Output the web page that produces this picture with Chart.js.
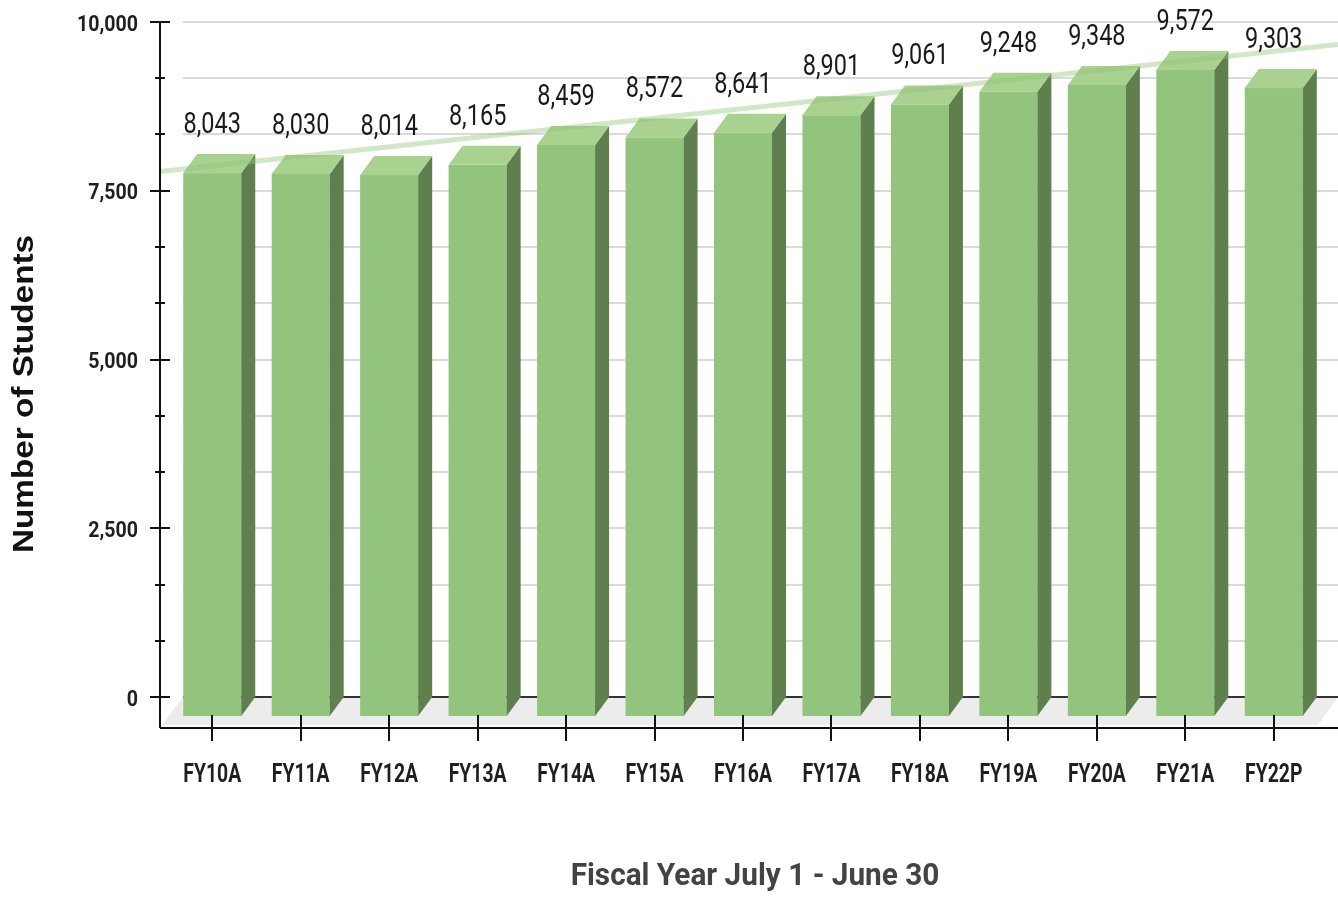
<!DOCTYPE html>
<html>
<head>
<meta charset="utf-8">
<script src="https://cdn.jsdelivr.net/npm/chart.js@4.4.1/dist/chart.umd.min.js"></script>
<style>
  html, body { margin: 0; padding: 0; background: #fff; overflow: hidden; }
</style>
</head>
<body>
<canvas id="enrollment" width="1338" height="897"></canvas>
<script>
const categories = ['FY10A', 'FY11A', 'FY12A', 'FY13A', 'FY14A', 'FY15A', 'FY16A',
                    'FY17A', 'FY18A', 'FY19A', 'FY20A', 'FY21A', 'FY22P'];
const students = [8043, 8030, 8014, 8165, 8459, 8572, 8641, 8901, 9061, 9248, 9348, 9572, 9303];
// trend line level at the first and last fiscal year
const trendEnds = [7870, 9565];
const yLabelled = [0, 2500, 5000, 7500, 10000];
const minorPerStep = 3;

const FRONT = '#93c47d';
const TOP = '#a9d18f';
const SIDE = '#5f7f4e';
const DEPTH_X = 14;
const DEPTH_Y = 19;
const FONT = 'Roboto, "Liberation Sans", sans-serif';

function isLabelled(v) {
  return yLabelled.some(l => Math.abs(l - v) < 1e-6);
}

// Roboto squeezed sideways so it reads like a condensed face
function narrowText(ctx, text, x, y, sx, align, baseline) {
  ctx.save();
  ctx.translate(x, y);
  ctx.scale(sx, 1);
  ctx.textAlign = align;
  ctx.textBaseline = baseline;
  ctx.fillText(text, 0, 0);
  ctx.restore();
}

function noPadding(scale) {
  scale.paddingTop = 0;
  scale.paddingBottom = 0;
  scale.paddingLeft = 0;
  scale.paddingRight = 0;
}

const boxes = {
  id: 'boxes',
  beforeDatasetsDraw(chart) {
    const { ctx, chartArea: a, scales: { y } } = chart;
    const y0 = y.getPixelForValue(0);
    ctx.save();
    // floor
    ctx.fillStyle = '#ececec';
    ctx.beginPath();
    ctx.moveTo(a.left + 15, y0);
    ctx.lineTo(a.right + 20, y0);
    ctx.lineTo(a.right, y0 + 28);
    ctx.lineTo(a.left - 6, y0 + 28);
    ctx.closePath();
    ctx.fill();
    // back wall grid
    ctx.lineWidth = 2;
    y.ticks.forEach(t => {
      const py = Math.round(y.getPixelForValue(t.value));
      ctx.strokeStyle = t.value === 0 ? '#333' : '#dadada';
      ctx.beginPath();
      ctx.moveTo(a.left + 15, py);
      ctx.lineTo(a.right + 20, py);
      ctx.stroke();
    });
    ctx.restore();
  },
  afterDatasetsDraw(chart) {
    const { ctx, chartArea: a, scales: { x, y } } = chart;
    const bars = chart.getDatasetMeta(0).data;
    ctx.save();
    bars.forEach(bar => {
      const { x: cx, y: top, base, width } = bar.getProps(['x', 'y', 'base', 'width'], true);
      const l = cx - width / 2, r = cx + width / 2;
      const ft = top + DEPTH_Y, fb = base + DEPTH_Y;
      ctx.fillStyle = FRONT;
      ctx.fillRect(l, ft, width, fb - ft);
      ctx.fillStyle = SIDE;
      ctx.beginPath();
      ctx.moveTo(r, ft);
      ctx.lineTo(r + DEPTH_X, top);
      ctx.lineTo(r + DEPTH_X, base);
      ctx.lineTo(r, fb);
      ctx.closePath();
      ctx.fill();
      ctx.fillStyle = TOP;
      ctx.beginPath();
      ctx.moveTo(l, ft);
      ctx.lineTo(r, ft);
      ctx.lineTo(r + DEPTH_X, top);
      ctx.lineTo(l + DEPTH_X, top);
      ctx.closePath();
      ctx.fill();
    });

    // linear trend, stretched from the axis to the right edge
    const x0 = x.getPixelForValue(0);
    const x1 = x.getPixelForValue(categories.length - 1);
    const ya = y.getPixelForValue(trendEnds[0]);
    const yb = y.getPixelForValue(trendEnds[1]);
    const k = (yb - ya) / (x1 - x0);
    const xs = a.left - 8, xe = chart.width;
    ctx.strokeStyle = 'rgba(147, 196, 125, 0.42)';
    ctx.lineWidth = 5;
    ctx.beginPath();
    ctx.moveTo(xs, ya + (xs - x0) * k);
    ctx.lineTo(xe, ya + (xe - x0) * k);
    ctx.stroke();

    // value labels
    ctx.fillStyle = '#1a1a1a';
    ctx.font = '29px ' + FONT;
    bars.forEach((bar, i) => {
      const { x: cx, y: top } = bar.getProps(['x', 'y'], true);
      narrowText(ctx, students[i].toLocaleString('en-US'), cx, top - 21, 0.81, 'center', 'alphabetic');
    });
    ctx.restore();
  },
  afterDraw(chart) {
    const { ctx, chartArea: a, scales: { x, y } } = chart;
    const ax = a.left - 8;
    const axisY = y.getPixelForValue(0) + 31;
    ctx.save();
    ctx.strokeStyle = '#111';
    ctx.lineWidth = 2;
    ctx.beginPath();
    // y axis with major and minor ticks
    ctx.moveTo(ax, y.getPixelForValue(10000) - 1);
    ctx.lineTo(ax, axisY);
    y.ticks.forEach(t => {
      const py = Math.round(y.getPixelForValue(t.value));
      const half = isLabelled(t.value) ? 10 : 5;
      ctx.moveTo(ax - half, py);
      ctx.lineTo(ax + half, py);
    });
    // x axis with a tick under each bar
    ctx.moveTo(ax, axisY);
    ctx.lineTo(chart.width, axisY);
    x.ticks.forEach((t, i) => {
      const px = Math.round(x.getPixelForValue(i));
      ctx.moveTo(px, axisY - 13);
      ctx.lineTo(px, axisY + 13);
    });
    ctx.stroke();

    // tick labels
    ctx.fillStyle = '#1f1f1f';
    ctx.font = 'bold 22px ' + FONT;
    y.ticks.forEach(t => {
      if (!isLabelled(t.value)) return;
      const py = y.getPixelForValue(t.value);
      narrowText(ctx, Math.round(t.value).toLocaleString('en-US'), ax - 22, py + 3, 0.89, 'right', 'middle');
    });
    ctx.font = 'bold 25.5px ' + FONT;
    x.ticks.forEach((t, i) => {
      narrowText(ctx, x.getLabelForValue(i), x.getPixelForValue(i), axisY + 54, 0.76, 'center', 'alphabetic');
    });

    // axis titles
    ctx.fillStyle = '#434343';
    ctx.font = 'bold 32px ' + FONT;
    narrowText(ctx, 'Fiscal Year July 1 - June 30', 755, 885, 0.93, 'center', 'alphabetic');

    ctx.fillStyle = '#111';
    ctx.font = 'bold 29px "Liberation Sans", Arial, sans-serif';
    ctx.translate(33, 394);
    ctx.rotate(-Math.PI / 2);
    ctx.scale(1.148, 1);
    ctx.textAlign = 'center';
    ctx.textBaseline = 'alphabetic';
    ctx.fillText('Number of Students', 0, 0);
    ctx.restore();
  }
};

new Chart(document.getElementById('enrollment'), {
  type: 'bar',
  data: {
    labels: categories,
    datasets: [{
      data: students,
      backgroundColor: 'rgba(0,0,0,0)',
      categoryPercentage: 1,
      barPercentage: 0.656
    }]
  },
  options: {
    responsive: false,
    animation: false,
    devicePixelRatio: 1,
    layout: { padding: { top: 22, right: 20, left: 0, bottom: 0 } },
    plugins: { legend: { display: false }, tooltip: { enabled: false } },
    scales: {
      x: {
        offset: true,
        grid: { display: false, drawTicks: false },
        border: { display: false },
        ticks: { display: false },
        afterFit(scale) { scale.height = 200; noPadding(scale); }
      },
      y: {
        min: 0,
        max: 10000,
        grid: { display: false, drawTicks: false },
        border: { display: false },
        afterBuildTicks(scale) {
          const step = (yLabelled[1] - yLabelled[0]) / minorPerStep;
          const n = (yLabelled.length - 1) * minorPerStep;
          scale.ticks = Array.from({ length: n + 1 }, (_, i) => ({ value: i * step }));
        },
        ticks: { display: false },
        afterFit(scale) { scale.width = 168; noPadding(scale); }
      }
    }
  },
  plugins: [boxes]
});
</script>
</body>
</html>
